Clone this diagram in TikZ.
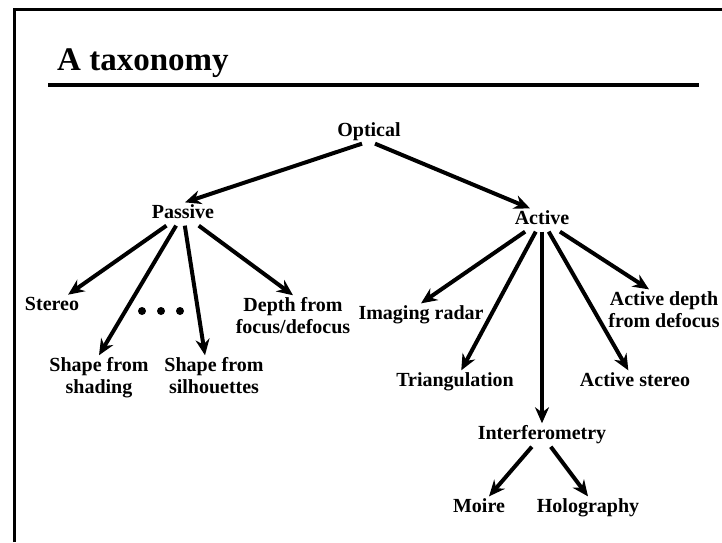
\documentclass[tikz,border=0pt]{standalone}
\usepackage{fontspec}
\setmainfont{Liberation Serif}
\usetikzlibrary{arrows.meta}
\begin{document}
\begin{tikzpicture}[x=1pt, y=-1pt,
  lbl/.style={font=\bfseries\fontsize{20}{22}\selectfont, inner sep=2pt, align=center, text depth=5pt},
  arr/.style={line width=4pt, -{Stealth[length=16pt, width=14pt]}}]
  \useasboundingbox (0,0) rectangle (722,542);
  \draw[line width=3pt] (14,542) -- (14,9) -- (722,9);
  \node[anchor=base west, inner sep=0pt, font=\bfseries\fontsize{33}{36}\selectfont] (title) at (57,70) {A taxonomy};
  \draw[line width=4pt] (48,85) -- (699,85);
  % tree
  \node[lbl] (optical) at (369,132) {Optical};
  \node[lbl] (passive) at (183,214) {Passive};
  \node[lbl] (active) at (542,220) {Active};
  \node[lbl] (stereo) at (52,306) {Stereo};
  \node[lbl] (shading) at (99,378) {Shape from\\shading};
  \node[lbl] (silh) at (214,378) {Shape from\\silhouettes};
  \node[lbl] (depth) at (293,318) {Depth from\\focus/defocus};
  \node[lbl] (radar) at (421,315) {Imaging radar};
  \node[lbl] (triang) at (455,382) {Triangulation};
  \node[lbl] (interf) at (542,435) {Interferometry};
  \node[lbl] (astereo) at (635,382) {Active stereo};
  \node[lbl] (adepth) at (664,312) {Active depth\\from defocus};
  \node[lbl] (moire) at (479,508) {Moire};
  \node[lbl] (holo) at (588,508) {Holography};
  \foreach \x in {142,161,180} \fill (\x,311) circle (4pt);
  % arrows
  \draw[arr] ([xshift=-7pt]optical.south) -- ([xshift=2pt]passive.north);
  \draw[arr] ([xshift=6pt]optical.south) -- ([xshift=-12pt]active.north);
  \draw[arr] (passive) -- (stereo);
  \draw[arr] (passive) -- (shading.north);
  \draw[arr] (passive) -- ([xshift=-9pt]silh.north);
  \draw[arr] (passive) -- (depth.north);
  \draw[arr] (active) -- (radar.north);
  \draw[arr] (active) -- (triang);
  \draw[arr] (active) -- (interf);
  \draw[arr] (active) -- (astereo);
  \draw[arr] (active) -- ([xshift=-15pt]adepth.north);
  \draw[arr] (interf) -- (moire);
  \draw[arr] (interf) -- (holo.north);
\end{tikzpicture}
\end{document}
